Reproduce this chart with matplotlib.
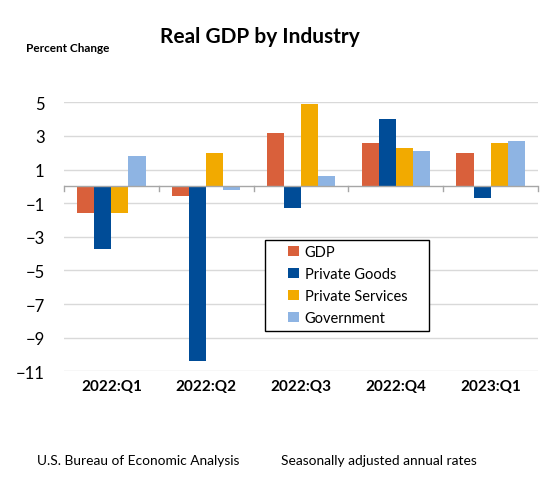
import numpy as np
import matplotlib.pyplot as plt
from matplotlib.patches import Rectangle

quarters = ['2022:Q1', '2022:Q2', '2022:Q3', '2022:Q4', '2023:Q1']
gdp = [-1.6, -0.6, 3.2, 2.6, 2.0]
private_goods = [-3.7, -10.4, -1.3, 4.0, -0.7]
private_services = [-1.6, 2.0, 4.9, 2.3, 2.6]
government = [1.8, -0.2, 0.6, 2.1, 2.7]

series = [('GDP', gdp, '#D9603B'),
          ('Private Goods', private_goods, '#004C97'),
          ('Private Services', private_services, '#F2AA00'),
          ('Government', government, '#8EB4E3')]

plt.rcParams['font.family'] = ['Lato', 'DejaVu Sans']

fig = plt.figure(figsize=(5.55, 4.85), dpi=100)
ax = fig.add_axes([64 / 555, 1 - 372.3 / 485, 474 / 555, 269 / 485])

x = np.arange(len(quarters))
w = 0.18
for i, (name, vals, color) in enumerate(series):
    ax.bar(x + (i - 1.5) * w, vals, w, color=color, label=name, zorder=3)

ax.set_xlim(-0.5, len(quarters) - 0.5)
ax.set_ylim(-11, 5)
ax.set_yticks(range(-11, 6, 2))
ax.yaxis.grid(True, color='#D9D9D9', linewidth=1, zorder=0)
ax.tick_params(axis='y', length=0, labelsize=12, pad=14)
for s in ax.spines.values():
    s.set_visible(False)

# zero line with category separators
ax.axhline(0, color='#A6A6A6', linewidth=1, zorder=4)
for b in np.arange(-0.5, len(quarters), 1):
    ax.plot([b, b], [0, -0.3], color='#A6A6A6', linewidth=1, zorder=4, clip_on=False)
ax.set_xticks([])
for xi, q in zip(x, quarters):
    ax.text(xi, -11.85, q, ha='center', va='center', fontsize=11, fontweight='bold')

# legend box (larger than its contents, as in the original)
box = Rectangle((265 / 555, 1 - 332 / 485), 164 / 555, 91 / 485, transform=fig.transFigure,
                facecolor='white', edgecolor='black', linewidth=1, zorder=5)
fig.add_artist(box)
leg = fig.legend(*ax.get_legend_handles_labels(), loc='upper left',
                 bbox_to_anchor=(288 / 555, 1 - 246 / 485),
                 frameon=False, fontsize=10.5, handlelength=0.75,
                 handleheight=0.75, handletextpad=0.4, borderpad=0, labelspacing=0.55,
                 borderaxespad=0)
leg.set_zorder(6)

fig.text(260 / 555, 1 - 37 / 485, 'Real GDP by Industry', ha='center', va='center',
         fontsize=15, fontweight='bold')
fig.text(26 / 555, 1 - 48 / 485, 'Percent Change', ha='left', va='center',
         fontsize=8.5, fontweight='bold')
fig.text(37 / 555, 1 - 461 / 485, 'U.S. Bureau of Economic Analysis', ha='left',
         va='center', fontsize=9.9)
fig.text(281 / 555, 1 - 461 / 485, 'Seasonally adjusted annual rates', ha='left',
         va='center', fontsize=9.9)

fig.savefig('out.png', dpi=100)
